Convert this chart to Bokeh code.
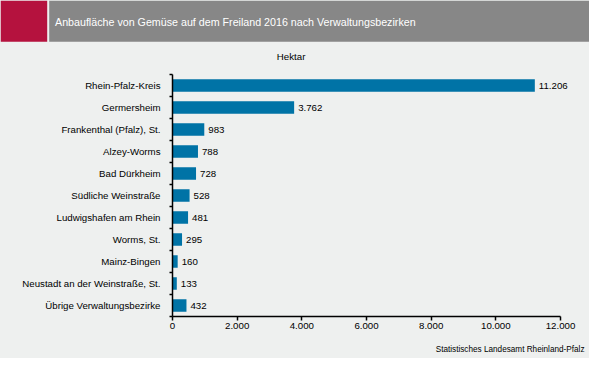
from bokeh.plotting import figure
from bokeh.models import Range1d, FixedTicker, Label, LabelSet, ColumnDataSource
from bokeh.layouts import column
from bokeh.core.properties import value
from bokeh.embed import file_html
from bokeh.resources import INLINE

# ---- data ----
categories = [
    "Rhein-Pfalz-Kreis",
    "Germersheim",
    "Frankenthal (Pfalz), St.",
    "Alzey-Worms",
    "Bad Dürkheim",
    "Südliche Weinstraße",
    "Ludwigshafen am Rhein",
    "Worms, St.",
    "Mainz-Bingen",
    "Neustadt an der Weinstraße, St.",
    "Übrige Verwaltungsbezirke",
]
values = [11206, 3762, 983, 788, 728, 528, 481, 295, 160, 133, 432]
x_ticks = [0, 2000, 4000, 6000, 8000, 10000, 12000]
x_tick_labels = ["0", "2.000", "4.000", "6.000", "8.000", "10.000", "12.000"]
title_text = "Anbaufläche von Gemüse auf dem Freiland 2016 nach Verwaltungsbezirken"
unit_text = "Hektar"
source_text = "Statistisches Landesamt Rheinland-Pfalz"

# ---- style / layout ----
W = 589
BG = "#eef0ef"
RED = "#b5123e"
GREY = "#878787"
BLUE = "#0073a6"
FONT = "Liberation Sans"
H_HEAD, H_MAIN, H_FOOT = 64, 273, 21
FRAME_L, FRAME_R = 172, 585      # frame edges in px
AXIS_END_PX = 560                # where 12000 sits
X_MAX = x_ticks[-1]
X_END = X_MAX * (FRAME_R - FRAME_L) / (AXIS_END_PX - FRAME_L)


def blank(height):
    f = figure(width=W, height=height, output_backend="svg", toolbar_location=None,
               x_axis_type=None, y_axis_type=None, min_border=0,
               x_range=Range1d(0, W), y_range=Range1d(height, 0))
    f.frame_align = False
    f.grid.visible = False
    f.outline_line_color = None
    f.background_fill_color = BG
    f.border_fill_color = BG
    return f


# header
head = blank(H_HEAD)
head.quad(left=0, right=46.7, top=0, bottom=41.2, fill_color=RED, line_color=None)
head.quad(left=48.7, right=W, top=0, bottom=41.2, fill_color=GREY, line_color=None)
head.add_layout(Label(x=54.5, y=21, text=title_text, text_color="white",
                      text_font=FONT, text_font_size="10.7px", text_baseline="middle"))
head.add_layout(Label(x=290.6, y=55.5, text=unit_text, text_color="black",
                      text_font=FONT, text_font_size="9.7px", text_baseline="middle",
                      text_align="center"))

# main chart
n = len(categories)
ys = list(range(n))
labels = [f"{v:,}".replace(",", ".") for v in values]
src = ColumnDataSource(dict(y=ys, v=values, lab=labels))

p = figure(width=W, height=H_MAIN, output_backend="svg", toolbar_location=None,
           x_range=Range1d(0, X_END), y_range=Range1d(n - 0.5, -0.5),
           min_border_left=FRAME_L, min_border_right=W - FRAME_R, min_border_top=10,
           min_border_bottom=21)
p.frame_align = False
p.grid.visible = False
p.outline_line_color = None
p.background_fill_color = BG
p.border_fill_color = BG

p.hbar(y="y", right="v", left=0, height=0.56, source=src, fill_color=BLUE, line_color=None)
p.add_layout(LabelSet(x="v", y="y", text="lab", source=src, x_offset=4,
                      text_baseline="middle", text_font=value(FONT),
                      text_font_size=value("9.7px"), text_color="black"))

p.xaxis.ticker = FixedTicker(ticks=x_ticks)
p.xaxis.bounds = (0, X_MAX)
p.xaxis.major_label_overrides = {t: l for t, l in zip(x_ticks, x_tick_labels)}
p.xaxis.major_tick_out = 4
p.xaxis.major_tick_in = 0
p.xaxis.minor_tick_out = 0
p.xaxis.minor_tick_in = 0
p.xaxis.major_label_standoff = 2

p.yaxis.ticker = FixedTicker(ticks=ys, minor_ticks=[i - 0.5 for i in range(n + 1)])
p.yaxis.major_label_overrides = {i: c for i, c in enumerate(categories)}
p.yaxis.major_tick_out = 0
p.yaxis.major_tick_in = 0
p.yaxis.minor_tick_out = 3
p.yaxis.minor_tick_in = 0
p.yaxis.major_label_standoff = 9

for ax in (p.xaxis, p.yaxis):
    ax.axis_line_color = "black"
    ax.axis_line_width = 1.5
    ax.major_tick_line_color = "black"
    ax.minor_tick_line_color = "black"
    ax.major_tick_line_width = 1.5
    ax.minor_tick_line_width = 1.5
    ax.major_label_text_font = FONT
    ax.major_label_text_font_size = "9.7px"
    ax.major_label_text_color = "black"

# footer
foot = blank(H_FOOT)
foot.add_layout(Label(x=584, y=12.3, text=source_text, text_color="black",
                      text_font=FONT, text_font_size="8.2px", text_baseline="middle",
                      text_align="right"))

layout = column(head, p, foot, spacing=0, styles={"background-color": BG, "gap": "0px"})
open("out.html", "w").write(file_html(layout, INLINE))
